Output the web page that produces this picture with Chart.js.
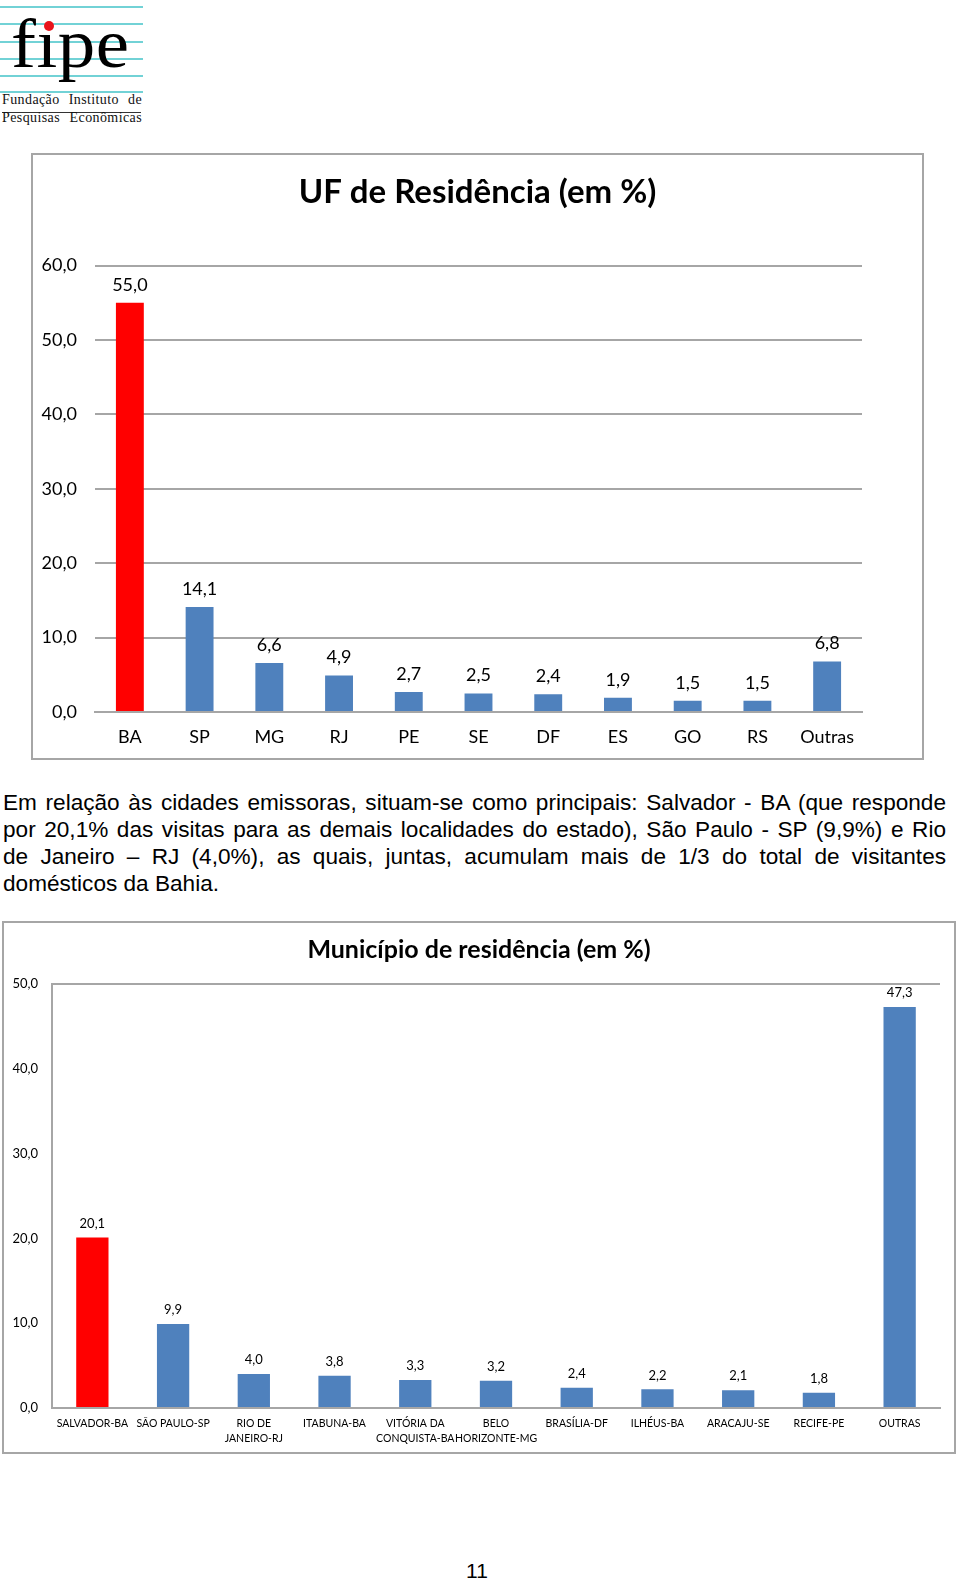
<!DOCTYPE html>
<html><head><meta charset="utf-8">
<script src="https://cdn.jsdelivr.net/npm/chart.js@4/dist/chart.umd.min.js"></script>
<style>
body{margin:0;width:960px;height:1581px;position:relative;background:#fff;overflow:hidden}
.abs{position:absolute}
.cl{position:absolute;left:0;width:143px;height:2px;background:#72d2d6}
.logo-word{position:absolute;left:11px;top:9px;font-family:'Liberation Serif',serif;font-size:70px;line-height:70px;color:#000;transform:scaleX(1.07);transform-origin:left top;letter-spacing:0.5px;white-space:nowrap}
.logo-dot{position:absolute;left:44px;top:21px;width:10px;height:10px;border-radius:50%;background:#e8141b}
.logo-t{position:absolute;left:2px;width:140px;font-family:'Liberation Serif',serif;font-size:14px;line-height:16px;letter-spacing:0.4px;color:#111;text-align:justify;text-align-last:justify;white-space:nowrap}
.para{position:absolute;left:3px;width:943px;font-family:'Liberation Sans',Arial,sans-serif;font-size:22.6px;color:#000}
.para div{height:27px;line-height:27px;text-align:justify;text-align-last:justify;white-space:nowrap}
.para div.last{text-align-last:left}
.box{position:absolute;border:2px solid #a6a6a6;box-sizing:border-box}
canvas{position:absolute}
.pg{position:absolute;left:447px;top:1559px;width:60px;text-align:center;font-family:'Liberation Sans',Arial,sans-serif;font-size:21px;color:#000}
</style></head><body>
<div class="cl" style="top:6px"></div>
<div class="cl" style="top:23px"></div>
<div class="cl" style="top:41px"></div>
<div class="cl" style="top:58px"></div>
<div class="cl" style="top:75px"></div>
<div class="cl" style="top:91px"></div>
<div class="logo-word">fıpe</div>
<div class="logo-dot"></div>
<div class="logo-t" style="top:92px">Fundação Instituto de</div>
<div class="abs" style="left:2px;top:112px;width:139px;height:1px;background:#333"></div>
<div class="logo-t" style="top:110px">Pesquisas Econômicas</div>

<div class="box" style="left:31px;top:153px;width:893px;height:607px"></div>
<canvas id="c1" width="893" height="607" style="left:31px;top:153px"></canvas>

<div class="para" style="top:789px">
<div>Em relação às cidades emissoras, situam-se como principais: Salvador - BA (que responde</div>
<div>por 20,1% das visitas para as demais localidades do estado), São Paulo - SP (9,9%) e Rio</div>
<div>de Janeiro – RJ (4,0%), as quais, juntas, acumulam mais de 1/3 do total de visitantes</div>
<div class="last">domésticos da Bahia.</div>
</div>

<div class="box" style="left:2px;top:921px;width:954px;height:533px"></div>
<canvas id="c2" width="954" height="533" style="left:2px;top:921px"></canvas>

<div class="pg">11</div>

<script>
// ---- data ----
const ufCategories = ['BA','SP','MG','RJ','PE','SE','DF','ES','GO','RS','Outras'];
const ufValues = [55.0,14.1,6.6,4.9,2.7,2.5,2.4,1.9,1.5,1.5,6.8];
const ufTicks = [0,10,20,30,40,50,60];

const munCategories = [['SALVADOR-BA'],['SÃO PAULO-SP'],['RIO DE','JANEIRO-RJ'],['ITABUNA-BA'],['VITÓRIA DA','CONQUISTA-BA'],['BELO','HORIZONTE-MG'],['BRASÍLIA-DF'],['ILHÉUS-BA'],['ARACAJU-SE'],['RECIFE-PE'],['OUTRAS']];
const munValues = [20.1,9.9,4.0,3.8,3.3,3.2,2.4,2.2,2.1,1.8,47.3];
const munTicks = [0,10,20,30,40,50];

const ufTitle = 'UF de Residência (em %)';
const munTitle = 'Município de residência (em %)';

// ---- helpers ----
const fmt = v => Number(v).toFixed(1).replace('.', ',');
const RED = '#ff0000', BLUE = '#4f81bd', GRID = '#a6a6a6';
const FONT = 'Lato, Carlito, Calibri, sans-serif';

const valueLabels = {
  id: 'valueLabels',
  afterDatasetsDraw(chart, args, opts) {
    const ctx = chart.ctx;
    const meta = chart.getDatasetMeta(0);
    const data = chart.data.datasets[0].data;
    ctx.save();
    ctx.font = opts.size + 'px ' + FONT;
    ctx.fillStyle = '#000';
    ctx.textAlign = 'center';
    ctx.textBaseline = 'middle';
    meta.data.forEach((bar, i) => {
      ctx.fillText(fmt(data[i]), bar.x, bar.y - opts.gap);
    });
    ctx.restore();
  }
};

// invisible right-hand spacer axis so the title stays centred on the whole chart
const spacer = w => ({
  type: 'linear', position: 'right', display: true,
  grid: { display: false, drawTicks: false }, border: { display: false },
  ticks: { display: false },
  afterFit(s) { s.width = w; }
});

Chart.defaults.font.family = FONT;
Chart.defaults.color = '#000';

new Chart(document.getElementById('c1'), {
  type: 'bar',
  data: {
    labels: ufCategories,
    datasets: [{
      data: ufValues,
      backgroundColor: ctx => ctx.dataIndex === 0 ? RED : BLUE,
      barPercentage: 0.4,
      categoryPercentage: 1.0
    }]
  },
  options: {
    responsive: false,
    animation: false,
    devicePixelRatio: 1,
    layout: { padding: 0 },
    plugins: {
      legend: { display: false },
      tooltip: { enabled: false },
      title: {
        display: true,
        text: ufTitle,
        font: { family: FONT, size: 33, weight: 'bold', lineHeight: 1.2 },
        color: '#000',
        padding: { top: 20, bottom: 53 }
      },
      valueLabels: { size: 18, gap: 18 }
    },
    scales: {
      x: {
        grid: { display: false, drawTicks: false },
        border: { display: true, color: GRID, width: 2 },
        ticks: { font: { size: 18 }, color: '#000', padding: 14, autoSkip: false, maxRotation: 0 },
        afterFit(s) { s.height = 48; }
      },
      y: {
        min: 0, max: 60,
        afterBuildTicks(s) { s.ticks = ufTicks.map(v => ({ value: v })); },
        ticks: { callback: fmt, font: { size: 18 }, color: '#000', padding: 18 },
        grid: { color: GRID, lineWidth: 2, drawTicks: false },
        border: { display: false },
        afterFit(s) { s.width = 64; }
      },
      yR: spacer(62)
    }
  },
  plugins: [valueLabels]
});

new Chart(document.getElementById('c2'), {
  type: 'bar',
  data: {
    labels: munCategories,
    datasets: [{
      data: munValues,
      backgroundColor: ctx => ctx.dataIndex === 0 ? RED : BLUE,
      barPercentage: 0.4,
      categoryPercentage: 1.0
    }]
  },
  options: {
    responsive: false,
    animation: false,
    devicePixelRatio: 1,
    layout: { padding: 0 },
    plugins: {
      legend: { display: false },
      tooltip: { enabled: false },
      title: {
        display: true,
        text: munTitle,
        font: { family: FONT, size: 25, weight: 'bold', lineHeight: 1.2 },
        color: '#000',
        padding: { top: 14, bottom: 19 }
      },
      valueLabels: { size: 13, gap: 14 }
    },
    scales: {
      x: {
        grid: { display: false, drawTicks: false },
        border: { display: true, color: GRID, width: 2 },
        ticks: { font: { size: 10.5, lineHeight: 1.45 }, color: '#000', padding: 8, autoSkip: false, maxRotation: 0 },
        afterFit(s) { s.height = 46; }
      },
      y: {
        min: 0, max: 50,
        afterBuildTicks(s) { s.ticks = munTicks.map(v => ({ value: v })); },
        ticks: { callback: fmt, font: { size: 13 }, color: '#000', padding: 14 },
        grid: { color: c => (c.tick && c.tick.value === 50) ? GRID : 'rgba(0,0,0,0)', lineWidth: 2, drawTicks: false },
        border: { display: true, color: GRID, width: 2 },
        afterFit(s) { s.width = 50; }
      },
      yR: spacer(16)
    }
  },
  plugins: [valueLabels]
});
</script>
</body></html>
